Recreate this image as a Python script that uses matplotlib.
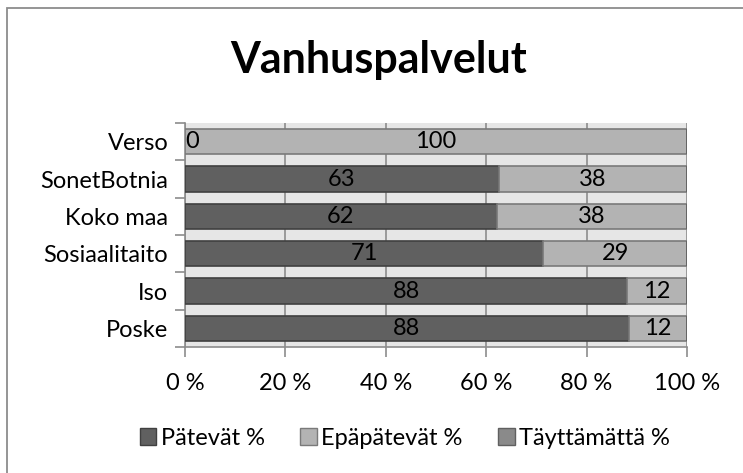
import matplotlib
matplotlib.use("Agg")
import matplotlib.pyplot as plt
from matplotlib.patches import Rectangle, Patch

plt.rcParams['font.family'] = ['Lato', 'DejaVu Sans']

# data, bottom to top
kategoriat = ['Poske', 'Iso', 'Sosiaalitaito', 'Koko maa', 'SonetBotnia', 'Verso']
patevat = [88.4, 88.1, 71.4, 62.1, 62.5, 0.0]
epapatevat = [11.6, 11.9, 28.6, 37.9, 37.5, 100.0]
tayttamatta = [0, 0, 0, 0, 0, 0]
sarjat = ['Pätevät %', 'Epäpätevät %', 'Täyttämättä %']
xtick_arvot = [0, 20, 40, 60, 80, 100]
xtick_tekstit = ['0 %', '20 %', '40 %', '60 %', '80 %', '100 %']

varit = ['#606060', '#b3b3b3', '#8a8a8a']
reunat = ['#404040', '#7a7a7a', '#606060']
FS = 17


def pyor(v):
    # excel-style rounding (half up)
    return str(int(v + 0.5))


fig = plt.figure(figsize=(7.43, 4.73), dpi=100)
fig.patches.append(Rectangle((7 / 743, -0.01), 1.02, 1 - 8 / 473 + 0.01,
                             transform=fig.transFigure, fill=False,
                             edgecolor='#8c8c8c', linewidth=1.3))

ax = fig.add_axes([185 / 743, 1 - 347 / 473, 502 / 743, 224 / 473])
ax.set_facecolor('#e6e6e6')

y = range(len(kategoriat))
vasen = [0] * len(kategoriat)
for arvot, vari, reuna in zip([patevat, epapatevat, tayttamatta], varit, reunat):
    ax.barh(y, arvot, left=vasen, height=0.67, color=vari, edgecolor=reuna,
            linewidth=1.2, zorder=3)
    vasen = [a + b for a, b in zip(vasen, arvot)]

# data labels
for i in y:
    p, e = patevat[i], epapatevat[i]
    if p > 0:
        ax.text(p / 2, i, pyor(p), ha='center', va='center', fontsize=FS, zorder=4)
    else:
        ax.text(0.1, i, pyor(p), ha='left', va='center', fontsize=FS, zorder=4)
    ax.text(p + e / 2, i, pyor(e), ha='center', va='center', fontsize=FS, zorder=4)

ax.set_xlim(0, 100)
ax.set_ylim(-0.5, len(kategoriat) - 0.5)
ax.set_xticks(xtick_arvot)
ax.set_xticklabels(xtick_tekstit, fontsize=FS)
ax.set_yticks(list(y))
ax.set_yticklabels(kategoriat, fontsize=FS)
ax.set_yticks([i - 0.5 for i in range(len(kategoriat) + 1)], minor=True)
ax.tick_params(axis='y', which='major', length=0, pad=12)
ax.tick_params(axis='y', which='minor', length=7, color='#8c8c8c', width=1.2)
ax.tick_params(axis='x', length=7, color='#8c8c8c', width=1.2, pad=12)
ax.grid(axis='x', color='#8c8c8c', linewidth=1.2, zorder=1)
ax.set_axisbelow(True)
for s in ['top', 'right']:
    ax.spines[s].set_visible(False)
for s in ['left', 'bottom']:
    ax.spines[s].set_color('#8c8c8c')
    ax.spines[s].set_linewidth(1.2)

fig.text(0.51, 1 - 60 / 473, 'Vanhuspalvelut', ha='center', va='center',
         fontsize=31, fontweight='bold')

kahvat = [Patch(facecolor=v, edgecolor=r, linewidth=1) for v, r in zip(varit, reunat)]
fig.legend(kahvat, sarjat, loc='center', bbox_to_anchor=(0.545, 1 - 438 / 473),
           ncol=3, frameon=False, fontsize=FS, handlelength=0.7, handleheight=0.7,
           handletextpad=0.2, columnspacing=1.5)

fig.savefig('out.png', dpi=100)
